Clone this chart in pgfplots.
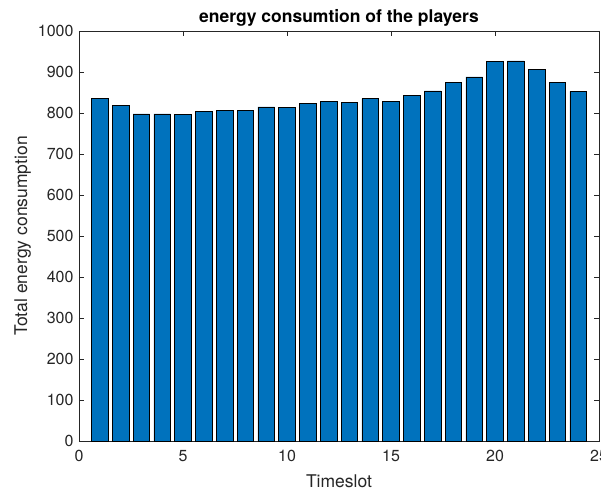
\documentclass[border=0pt]{standalone}
\usepackage{pgfplots}
\pgfplotsset{compat=1.18}
\usepackage{fontspec}
\setmainfont{TeX Gyre Heros}
\definecolor{barblue}{rgb}{0,0.447,0.741}
\definecolor{axgray}{rgb}{0.15,0.15,0.15}

\pgfplotstableread{
slot energy
1  836
2  819
3  798
4  798
5  796
6  804
7  806
8  806
9  815
10 813
11 824
12 828
13 825
14 835
15 828
16 842
17 854
18 874
19 888
20 925
21 927
22 906
23 875
24 853
}\energydata

\begin{document}
\begin{tikzpicture}
\begin{axis}[
  name=ax,
  scale only axis,
  width=520pt, height=410pt,
  xmin=0, xmax=25, ymin=0, ymax=1000,
  xtick={0,5,...,25},
  ytick={0,100,...,1000},
  tick align=inside,
  major tick length=5pt,
  axis line style={axgray, line width=0.6pt},
  every tick/.style={axgray, line width=0.6pt},
  tick label style={font=\fontsize{16}{18}\selectfont, text=axgray},
  /pgf/number format/assume math mode=true,
  /pgf/number format/1000 sep={},
  scaled ticks=false,
  xticklabel style={yshift=-6pt},
  yticklabel style={xshift=-2pt},
  title={\textbf{energy consumtion of the players}},
  title style={font=\fontsize{17.5}{19}\selectfont, yshift=-5pt},
  xlabel={Timeslot},
  ylabel={Total energy consumption},
  label style={font=\fontsize{17.5}{19}\selectfont, text=axgray},
  xlabel style={yshift=-6pt},
  ylabel style={yshift=0pt},
]
\addplot[ybar, bar width=0.8, fill=barblue, draw=black, line width=0.6pt]
  table[x=slot, y=energy] {\energydata};
\end{axis}
\pgfresetboundingbox
\path[use as bounding box] ([shift={(-79pt,-51pt)}]ax.south west)
  rectangle ([shift={(522pt,441pt)}]ax.south west);
\end{tikzpicture}
\end{document}
